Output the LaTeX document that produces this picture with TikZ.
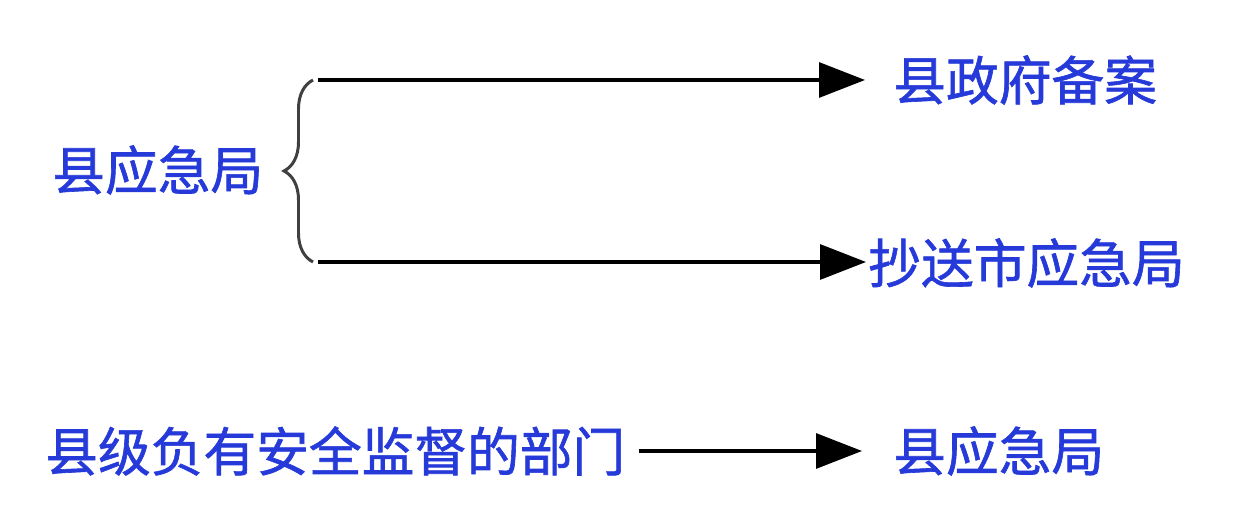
\documentclass[tikz,border=0pt]{standalone}
\usepackage{fontspec}
\newfontfamily\cjk[FakeBold=1.2]{Noto Sans CJK SC}
\usetikzlibrary{arrows.meta,positioning,decorations.pathreplacing}
\definecolor{deptblue}{RGB}{38,58,218}
\tikzset{
  dept/.style={font=\cjk\fontsize{30}{34}\selectfont, text=deptblue, inner sep=0pt, anchor=west},
  flow/.style={line width=1.8pt, -{Triangle[length=0.92cm,width=0.7cm]}},
}

\begin{document}
\begin{tikzpicture}
	\useasboundingbox (0,0) rectangle (24.82,10.4);
	% top group
	\node[dept] (cty) at (1.04,7.0) {县应急局};
	\coordinate (bt) at (6.26,8.8);
	\coordinate (bb) at (6.26,5.16);
	\draw[decorate, decoration={brace, amplitude=0.58cm}, line width=1.7pt, black!75] (bb) -- (bt);
	\node[dept] (gov) at (17.86,8.8) {县政府备案};
	\node[dept] (city) at (17.36,5.14) {抄送市应急局};
	\draw[flow, shorten >=0.56cm] ([xshift=0.1cm]bt) -- (bt -| gov.west);
	\draw[flow, shorten >=0.04cm] ([xshift=0.1cm]bb) -- (bb -| city.west);
	% bottom row
	\node[dept] (dep) at (0.9,1.38) {县级负有安全监督的部门};
	\node[dept] (ctyb) at (17.86,1.38) {县应急局};
	\draw[flow, shorten <=0.26cm, shorten >=0.62cm] (dep.east) -- (ctyb.west);
\end{tikzpicture}
\end{document}
